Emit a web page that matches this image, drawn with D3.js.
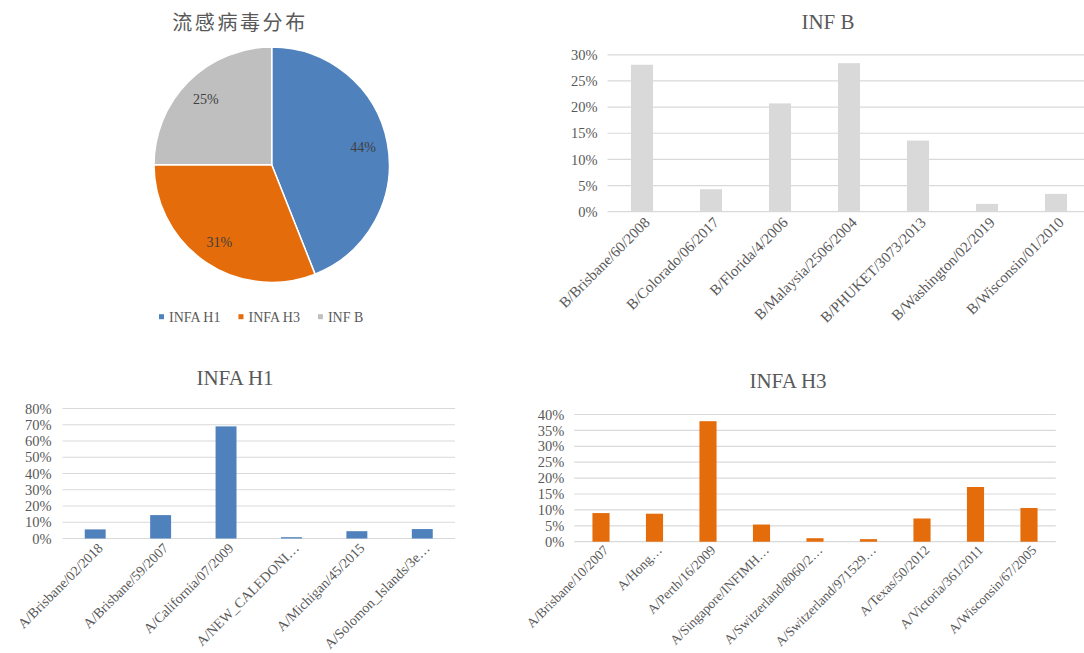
<!DOCTYPE html>
<html>
<head>
<meta charset="utf-8">
<script src="https://cdn.jsdelivr.net/npm/d3@7"></script>
<style>
  html, body { margin: 0; padding: 0; background: #fff; }
  svg { display: block; }
  svg text { font-family: "Liberation Serif", "Times New Roman", serif; }
  svg text.cjk { font-family: "Noto Sans CJK SC", sans-serif; }
</style>
</head>
<body>
<svg id="chart" width="1084" height="653"></svg>
<script>
// ---- data ----
const pieTitle = "流感病毒分布";
const pieCategories = ["INFA H1", "INFA H3", "INF B"];
const pieValues = [44, 31, 25];
const pieColors = ["#4f81bd", "#e46c0a", "#bfbfbf"];

const infBTitle = "INF B";
const infBCategories = ["B/Brisbane/60/2008", "B/Colorado/06/2017", "B/Florida/4/2006",
  "B/Malaysia/2506/2004", "B/PHUKET/3073/2013", "B/Washington/02/2019", "B/Wisconsin/01/2010"];
const infBValues = [0.281, 0.043, 0.207, 0.284, 0.136, 0.015, 0.034];
const infBTicks = [0, 0.05, 0.10, 0.15, 0.20, 0.25, 0.30];

const h1Title = "INFA H1";
const h1Categories = ["A/Brisbane/02/2018", "A/Brisbane/59/2007", "A/California/07/2009",
  "A/NEW_CALEDONI…", "A/Michigan/45/2015", "A/Solomon_Islands/3e…"];
const h1Values = [0.056, 0.144, 0.690, 0.008, 0.045, 0.058];
const h1Ticks = [0, 0.1, 0.2, 0.3, 0.4, 0.5, 0.6, 0.7, 0.8];

const h3Title = "INFA H3";
const h3Categories = ["A/Brisbane/10/2007", "A/Hong…", "A/Perth/16/2009", "A/Singapore/INFIMH…",
  "A/Switzerland/8060/2…", "A/Switzerland/971529…", "A/Texas/50/2012", "A/Victoria/361/2011",
  "A/Wisconsin/67/2005"];
const h3Values = [0.090, 0.088, 0.379, 0.054, 0.011, 0.008, 0.073, 0.172, 0.106];
const h3Ticks = [0, 0.05, 0.10, 0.15, 0.20, 0.25, 0.30, 0.35, 0.40];

// ---- styles ----
const serif = '"Liberation Serif", "Times New Roman", serif';
const textColor = "#595959";
const gridColor = "#d9d9d9";

const svg = d3.select("#chart");
const pct = d3.format(".0%");

// ---- pie ----
(function drawPie() {
  const cx = 271.7, cy = 164.7, r = 117.7;
  svg.append("text")
    .attr("class", "cjk")
    .attr("x", 240).attr("y", 30)
    .attr("text-anchor", "middle")
    .style("font-size", "20px")
    .attr("letter-spacing", 2.6)
    .attr("fill", textColor)
    .text(pieTitle);

  const pie = d3.pie().sort(null).value(d => d)(pieValues);
  const arc = d3.arc().innerRadius(0).outerRadius(r);
  const labelArc = d3.arc().innerRadius(r * 0.79).outerRadius(r * 0.79);
  const g = svg.append("g").attr("transform", `translate(${cx},${cy})`);
  g.selectAll("path").data(pie).join("path")
    .attr("d", arc)
    .attr("fill", (d, i) => pieColors[i])
    .attr("stroke", "#fff")
    .attr("stroke-width", 1.5);
  g.selectAll("text").data(pie).join("text")
    .attr("transform", d => `translate(${labelArc.centroid(d)})`)
    .attr("text-anchor", "middle")
    .attr("dy", "0.35em")
    .style("font-size", "14px")
    .attr("fill", "#404040")
    .text(d => d.data + "%");

  // legend
  const lg = svg.append("g");
  let x = 159;
  const ly = 316.7;
  pieCategories.forEach((name, i) => {
    lg.append("rect")
      .attr("x", x).attr("y", ly - 2.5)
      .attr("width", 5).attr("height", 5)
      .attr("fill", pieColors[i]);
    const t = lg.append("text")
      .attr("x", x + 10).attr("y", ly)
      .attr("dy", "0.35em")
      .style("font-size", "14px")
      .attr("fill", textColor)
      .text(name);
    x += 10 + t.node().getComputedTextLength() + 18;
  });
})();

// ---- bar charts ----
function barChart(opt) {
  const { title, titleX, titleY, categories, values, ticks, color,
          x0, x1, y0, yTop, gridEnd, labelGap, labelSize, labelDrop } = opt;
  const g = svg.append("g");
  const x = d3.scaleBand().domain(categories).range([x0, x1])
    .paddingInner(0.68).paddingOuter(0.34);
  const y = d3.scaleLinear().domain([0, ticks[ticks.length - 1]]).range([y0, yTop]);

  g.append("text")
    .attr("x", titleX).attr("y", titleY)
    .attr("text-anchor", "middle")
    .style("font-size", "21px")
    .attr("fill", textColor)
    .text(title);

  // gridlines
  g.append("g").selectAll("line").data(ticks).join("line")
    .attr("x1", x0).attr("x2", gridEnd)
    .attr("y1", d => y(d)).attr("y2", d => y(d))
    .attr("stroke", gridColor).attr("stroke-width", 1.2);

  // y axis labels
  const yAxis = d3.axisLeft(y).tickValues(ticks).tickFormat(pct).tickSize(0).tickPadding(labelGap);
  const ya = g.append("g").attr("transform", `translate(${x0},0)`).call(yAxis);
  ya.attr("font-family", null);
  ya.select(".domain").remove();
  ya.selectAll("text")
    .style("font-family", serif).style("font-size", "14.5px").attr("fill", textColor);

  // bars
  g.append("g").selectAll("rect").data(values).join("rect")
    .attr("x", (d, i) => x(categories[i]))
    .attr("width", x.bandwidth())
    .attr("y", d => y(d))
    .attr("height", d => y0 - y(d))
    .attr("fill", color);

  // x labels
  const xAxis = d3.axisBottom(x).tickSize(0).tickPadding(0);
  const xa = g.append("g").attr("transform", `translate(0,${y0})`).call(xAxis);
  xa.attr("font-family", null);
  xa.select(".domain").remove();
  xa.selectAll("text")
    .style("font-family", serif).style("font-size", labelSize + "px").attr("fill", textColor)
    .attr("text-anchor", "end")
    .attr("dy", "0.35em")
    .attr("y", 0)
    .attr("transform", `translate(5,${labelDrop}) rotate(-45)`);
}

barChart({
  title: infBTitle, titleX: 828, titleY: 29,
  categories: infBCategories, values: infBValues, ticks: infBTicks, color: "#d9d9d9",
  x0: 607.5, x1: 1090.5, y0: 211.7, yTop: 54.8, gridEnd: 1084, labelGap: 10,
  labelSize: 15, labelDrop: 8
});
barChart({
  title: h1Title, titleX: 235, titleY: 385,
  categories: h1Categories, values: h1Values, ticks: h1Ticks, color: "#4f81bd",
  x0: 62.5, x1: 455, y0: 538.5, yTop: 408.5, gridEnd: 455, labelGap: 11,
  labelSize: 14, labelDrop: 7
});
barChart({
  title: h3Title, titleX: 788, titleY: 388,
  categories: h3Categories, values: h3Values, ticks: h3Ticks, color: "#e46c0a",
  x0: 574.25, x1: 1055.75, y0: 541.7, yTop: 414.5, gridEnd: 1055.75, labelGap: 10,
  labelSize: 13.5, labelDrop: 6
});
</script>
</body>
</html>
